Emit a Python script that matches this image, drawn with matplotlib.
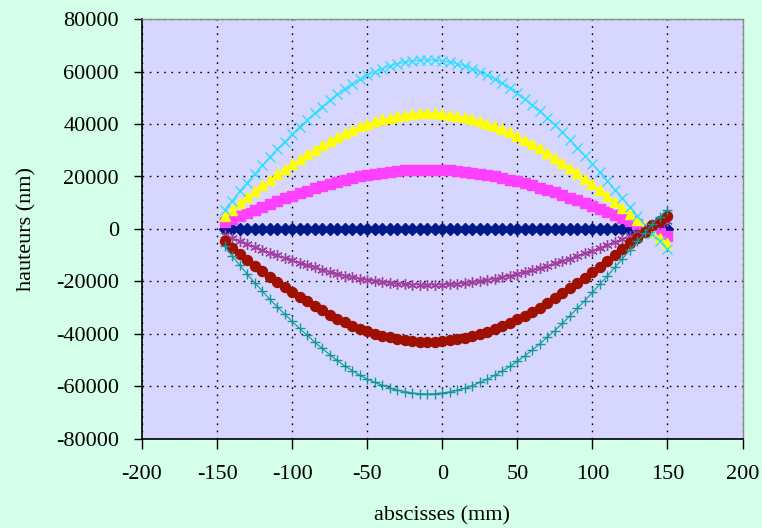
import numpy as np
import matplotlib
matplotlib.use('Agg')
import matplotlib.pyplot as plt

plt.rcParams['font.family'] = ['Liberation Serif', 'DejaVu Serif']

# abscisses (mm)
x_mm = list(range(-145, 151, 5))

# hauteurs (nm), one list per series
serie_bleu = [0] * 60

serie_magenta = [2500, 3800, 5000, 6200, 7400, 8500, 9600, 10600, 11700, 12600,
                 13600, 14600, 15500, 16300, 17200, 18000, 18700, 19400, 20000, 20500,
                 21000, 21400, 21700, 22100, 22300, 22400, 22500, 22600, 22500, 22400,
                 22300, 22100, 21800, 21400, 21000, 20500, 20000, 19400, 18800, 18100,
                 17400, 16600, 15700, 14800, 13900, 12900, 11900, 10900, 9800, 8700,
                 7600, 6400, 5300, 4100, 2900, 1700, 500, -700, -1700, -2700]

serie_jaune = [4900, 7400, 9800, 12100, 14400, 16600, 18800, 20800, 22800, 24700,
               26600, 28500, 30300, 32000, 33600, 35200, 36600, 37900, 39100, 40100,
               41000, 41900, 42500, 43200, 43600, 43900, 44100, 44200, 44100, 43900,
               43600, 43200, 42600, 41900, 41100, 40200, 39200, 38000, 36800, 35400,
               34000, 32400, 30800, 29000, 27200, 25300, 23300, 21200, 19200, 17000,
               14800, 12600, 10300, 8000, 5700, 3400, 1000, -1300, -3300, -5200]

serie_cyan = [7200, 10800, 14300, 17700, 21000, 24200, 27400, 30400, 33300, 36100,
              38900, 41600, 44200, 46700, 49100, 51400, 53500, 55400, 57100, 58600,
              59900, 61100, 62100, 63000, 63600, 64100, 64400, 64500, 64400, 64100,
              63700, 63000, 62200, 61200, 60000, 58700, 57200, 55500, 53700, 51700,
              49600, 47300, 44900, 42300, 39700, 36900, 34000, 31000, 28000, 24800,
              21600, 18400, 15000, 11700, 8300, 4900, 1500, -1900, -4800, -7600]

serie_violet = [-2400, -3600, -4800, -5900, -7000, -8100, -9100, -10100, -11100, -12000,
                -13000, -13900, -14700, -15600, -16400, -17100, -17800, -18400, -19000, -19500,
                -19900, -20300, -20700, -21000, -21200, -21300, -21400, -21500, -21400, -21300,
                -21200, -21000, -20700, -20400, -20000, -19500, -19000, -18500, -17900, -17200,
                -16500, -15800, -15000, -14100, -13200, -12300, -11300, -10300, -9300, -8300,
                -7200, -6100, -5000, -3900, -2800, -1600, -500, 600, 1800, 3000]

serie_rouge = [-4800, -7200, -9500, -11800, -14000, -16100, -18300, -20300, -22200, -24100,
               -25900, -27700, -29500, -31100, -32700, -34300, -35700, -37000, -38100, -39100,
               -40000, -40800, -41400, -42000, -42400, -42800, -43000, -43000, -43000, -42800,
               -42500, -42000, -41500, -40800, -40000, -39200, -38200, -37000, -35800, -34500,
               -33100, -31600, -30000, -28200, -26500, -24600, -22700, -20700, -18700, -16500,
               -14400, -12300, -10000, -7800, -5500, -3300, -1000, 1300, 3200, 5100]

serie_sarcelle = [-6500, -10300, -13800, -17200, -20500, -23600, -26800, -29700, -32500, -35300,
                  -38000, -40600, -43200, -45600, -48000, -50200, -52300, -54100, -55800, -57300,
                  -58500, -59700, -60700, -61600, -62100, -62600, -62900, -63000, -62900, -62600,
                  -62200, -61600, -60800, -59800, -58600, -57400, -55900, -54200, -52500, -50500,
                  -48500, -46200, -43900, -41300, -38800, -36100, -33200, -30300, -27400, -24200,
                  -21100, -18000, -14700, -11400, -8100, -4800, -1500, 1900, 4700, 7400]

x_ticks = [-200, -150, -100, -50, 0, 50, 100, 150, 200]
y_ticks = [-80000, -60000, -40000, -20000, 0, 20000, 40000, 60000, 80000]

fig = plt.figure(figsize=(7.62, 5.28), dpi=100)
fig.patch.set_facecolor('#d4ffe8')
ax = fig.add_axes([142 / 762, 1 - 438.5 / 528, 600.5 / 762, 419.2 / 528])
ax.set_facecolor('#d6d6ff')

styles = [
    (serie_bleu, '#001a8c', 'D', 6),
    (serie_magenta, '#ff40ff', 's', 6.8),
    (serie_jaune, '#ffff00', '^', 7.5),
    (serie_cyan, '#33ddff', 'x', 6.5),
    (serie_violet, '#a040a0', (6, 2, 0), 7.5),
    (serie_rouge, '#a01000', 'o', 7.2),
    (serie_sarcelle, '#10999a', '+', 7.5),
]
for serie, col, mk, ms in styles:
    ax.plot(x_mm, serie, color=col, lw=0.8, marker=mk, ms=ms,
            mfc=col, mec=col, mew=1.0, clip_on=False)

ax.set_xlim(-200, 200)
ax.set_ylim(-80000, 80000)
ax.set_xticks(x_ticks)
ax.set_yticks(y_ticks)
ax.set_xticklabels([str(v) for v in x_ticks])
ax.set_yticklabels([str(v) for v in y_ticks])

ax.grid(True, color='black', lw=1.0, linestyle=(0, (1.2, 4)))
ax.set_axisbelow(True)

for s in ['top', 'right']:
    ax.spines[s].set_color('#8c8c8c')
    ax.spines[s].set_linewidth(1.0)
for s in ['left', 'bottom']:
    ax.spines[s].set_color('black')
    ax.spines[s].set_linewidth(1.2)

ax.tick_params(axis='x', direction='out', length=7, width=1, pad=12, labelsize=16)
ax.tick_params(axis='y', direction='out', length=5.5, width=1, pad=11, labelsize=16)

ax.set_xlabel('abscisses (mm)', fontsize=16)
ax.set_ylabel('hauteurs (nm)', fontsize=16)
ax.xaxis.label.set_va('center')
ax.xaxis.set_label_coords(0.5, -0.184)
ax.yaxis.label.set_va('center')
ax.yaxis.set_label_coords(-0.1915, 0.5)

fig.savefig('out.png', dpi=100, facecolor=fig.get_facecolor())
